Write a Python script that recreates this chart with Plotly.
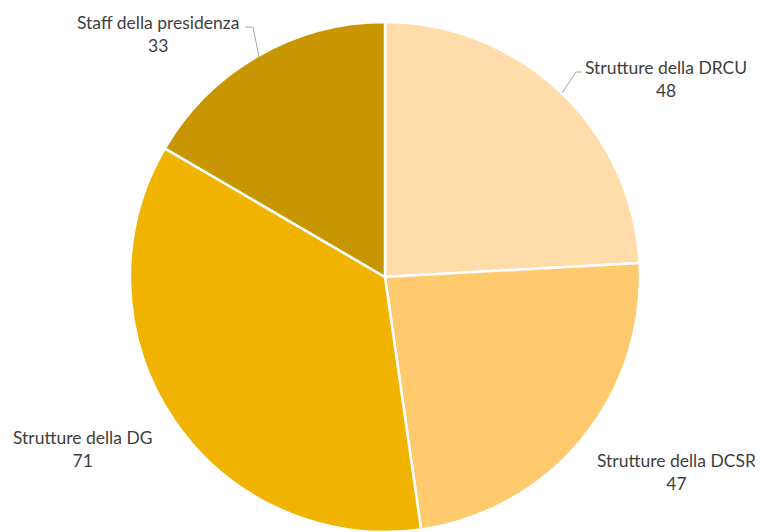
import plotly.graph_objects as go

labels = ["Strutture della DRCU", "Strutture della DCSR", "Strutture della DG", "Staff della presidenza"]
values = [48, 47, 71, 33]
colors = ["#FFDCAA", "#FFC96E", "#F0B400", "#C89600"]

OFF = 8  # page body margin
W, H = 763 - OFF, 532 - OFF

def px(x):
    return (x - OFF) / W

def py(y):
    return 1 - (y - OFF) / H

fig = go.Figure(go.Pie(
    labels=labels,
    values=values,
    sort=False,
    direction="clockwise",
    rotation=0,
    textinfo="none",
    hoverinfo="label+value",
    marker=dict(colors=colors, line=dict(color="white", width=2.5)),
    domain=dict(x=[px(130), px(640)], y=[0, py(22)]),
    showlegend=False,
))

# label positions (pixel centres in the page) and leader lines
label_pos = [(666, 79), (676, 472), (83, 449), (158, 34)]
for lab, val, (x, y) in zip(labels, values, label_pos):
    fig.add_annotation(
        x=px(x), y=py(y), xref="paper", yref="paper",
        xanchor="center", yanchor="middle",
        text=f"{lab}<br>{val}", showarrow=False,
        font=dict(family="Lato, Open Sans, sans-serif", size=17.5, color="#404040"),
        align="center",
    )

leaders = [
    [(562, 93), (576, 72), (582, 72)],
    [(259, 57), (253, 27), (245, 27)],
]
for pts in leaders:
    for (x0, y0), (x1, y1) in zip(pts[:-1], pts[1:]):
        fig.add_shape(type="line", xref="paper", yref="paper",
                      x0=px(x0), y0=py(y0), x1=px(x1), y1=py(y1),
                      line=dict(color="#A6A6A6", width=1))

fig.update_layout(
    width=W, height=H,
    margin=dict(l=0, r=0, t=0, b=0),
    paper_bgcolor="white",
    plot_bgcolor="white",
)

fig.write_html("out.html")
